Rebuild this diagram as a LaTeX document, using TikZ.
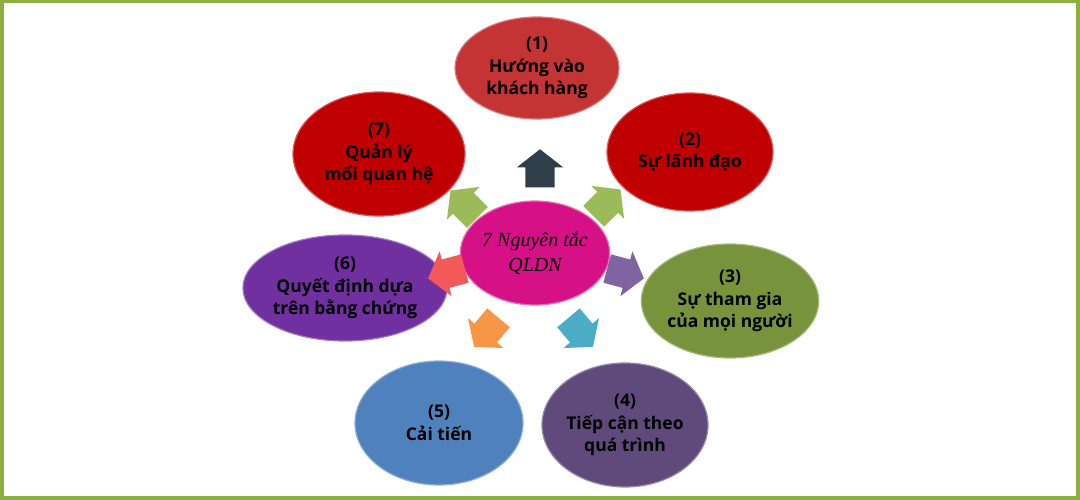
\documentclass[tikz,border=0pt]{standalone}
\usepackage{fontspec}
\setmainfont{Open Sans}
\newfontfamily\centerfont{Liberation Serif}
\usetikzlibrary{shapes.geometric,shapes.arrows}
\definecolor{frameG}{HTML}{8CB040}
\definecolor{cA}{RGB}{196,52,52}
\definecolor{cB}{HTML}{C00000}
\definecolor{cC}{HTML}{77933C}
\definecolor{cD}{HTML}{604A7B}
\definecolor{cE}{HTML}{4F81BD}
\definecolor{cF}{HTML}{7030A0}
\definecolor{cMid}{RGB}{214,16,134}
\definecolor{aDark}{HTML}{2F3E48}
\definecolor{aGreen}{HTML}{9BBB59}
\definecolor{aPurple}{HTML}{8064A2}
\definecolor{aAqua}{HTML}{4BACC6}
\definecolor{aOrange}{HTML}{F79646}
\definecolor{aRed}{HTML}{F25A5A}
\tikzset{
  bubble/.style={ellipse, inner sep=0pt, minimum width=166pt, minimum height=120pt,
    fill=#1, draw=#1!65!white, line width=1.2pt, align=center,
    font=\bfseries\fontsize{17.5}{22.5}\selectfont, text=black},
  blockarrow/.style={single arrow, fill=#1, draw=none, minimum height=38pt,
    minimum width=46pt, inner sep=0pt, inner ysep=14.5pt, single arrow head extend=8.5pt,
    single arrow tip angle=104, anchor=center}
}
\begin{document}
\begin{tikzpicture}[x=1pt,y=-1pt]
\useasboundingbox (0,0) rectangle (1080,500);
\fill[white] (0,0) rectangle (1080,500);
\draw[frameG, line width=3.5pt] (1.75,1.75) rectangle (1078,498);

\node[bubble=cA, minimum width=164pt, minimum height=102pt] (p1) at (537,68) {(1)\\Hướng vào\\khách hàng};
\node[bubble=cB, minimum width=166pt, minimum height=118pt] (p2) at (690,152) {(2)\\Sự lãnh đạo};
\node[bubble=cC, minimum width=166pt, minimum height=114pt] (p3) at (730,301) {(3)\\Sự tham gia\\của mọi người};
\node[bubble=cD, minimum width=166pt, minimum height=124pt] (p4) at (625,425) {(4)\\Tiếp cận theo\\quá trình};
\node[bubble=cE, minimum width=168pt, minimum height=124pt] (p5) at (439,423) {(5)\\Cải tiến};
\node[bubble=cF, minimum width=164pt, minimum height=106pt] (p6) at (345,288) {(6)\\Quyết định dựa\\trên bằng chứng};
\node[bubble=cB, minimum width=172pt, minimum height=124pt] (p7) at (379,154) {(7)\\Quản lý\\mối quan hệ};

\node[ellipse, fill=cMid, draw=cMid!60!white, line width=1.2pt, inner sep=0pt,
  minimum width=126pt, minimum height=104pt, align=center,
  font=\centerfont\itshape\fontsize{20}{25}\selectfont] (mid) at (535,253) {7 Nguyên tắc\\QLDN};

\node[blockarrow=aDark, rotate=90] (a1) at (540,174) {};
\node[blockarrow=aGreen, rotate=45] (a2) at (603,207) {};
\node[blockarrow=aPurple, rotate=-15] (a3) at (620,272) {};
\node[blockarrow=aAqua, rotate=-50] (a4) at (577,328) {};
\node[blockarrow=aOrange, rotate=-130] (a5) at (490,328) {};
\node[blockarrow=aRed, rotate=195] (a6) at (452,272) {};
\node[blockarrow=aGreen, rotate=135] (a7) at (468,208) {};
\end{tikzpicture}
\end{document}
